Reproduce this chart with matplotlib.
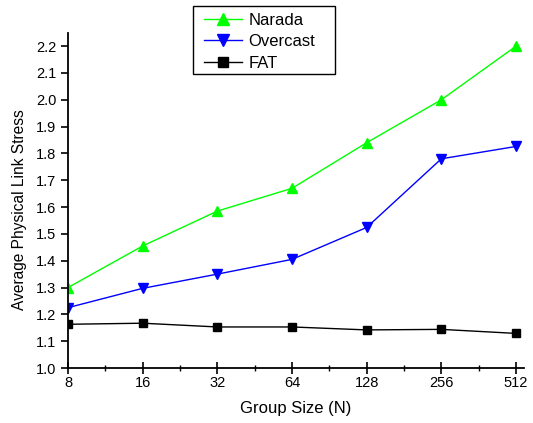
import matplotlib
matplotlib.use('Agg')
import matplotlib.pyplot as plt
from matplotlib.patches import Rectangle
import numpy as np

plt.rcParams['font.family'] = ['Liberation Sans', 'DejaVu Sans']

group_sizes = [8, 16, 32, 64, 128, 256, 512]
narada = [1.30, 1.455, 1.585, 1.67, 1.84, 2.00, 2.20]
overcast = [1.225, 1.297, 1.35, 1.405, 1.524, 1.78, 1.826]
fat = [1.163, 1.167, 1.153, 1.153, 1.142, 1.144, 1.129]
yticks = [1.0, 1.1, 1.2, 1.3, 1.4, 1.5, 1.6, 1.7, 1.8, 1.9, 2.0, 2.1, 2.2]

W, H = 533, 423
fig = plt.figure(figsize=(W / 100, H / 100), dpi=100)
ax = fig.add_axes([68 / W, 1 - 368 / H, (524 - 68) / W, (368 - 33) / H])

xs = np.log2(group_sizes)
ax.plot(xs, narada, color='#00ff00', lw=1, marker='^', ms=7, label='Narada')
ax.plot(xs, overcast, color='#0000ff', lw=1, marker='v', ms=7, label='Overcast')
ax.plot(xs, fat, color='#000000', lw=1, marker='s', ms=5.5, label='FAT')

ax.set_xlim(3, 9.107)
ax.set_ylim(1.0, 2.249)
ax.set_xticks(xs)
ax.set_xticklabels([str(g) for g in group_sizes])
ax.set_xticks(xs[:-1] + 0.5, minor=True)
ax.set_yticks(yticks)
ax.set_yticklabels([f'{v:.1f}' for v in yticks])

for s in ['top', 'right']:
    ax.spines[s].set_visible(False)
ax.spines['left'].set_linewidth(1.3)
ax.spines['bottom'].set_linewidth(1.3)

ax.tick_params(axis='x', which='major', direction='inout', length=8, width=1.2, labelsize=10.5, pad=2)
ax.tick_params(axis='x', which='minor', direction='inout', length=5, width=1.0)
ax.tick_params(axis='y', which='major', direction='out', length=5, width=1.2, labelsize=10.5)

ax.set_xlabel('Group Size (N)', fontsize=12, labelpad=8)
ax.set_ylabel('Average Physical Link Stress', fontsize=11.2)
ax.yaxis.set_label_coords(-0.09, 0.472)

# legend frame drawn separately so the padding matches the original box
fig.patches.append(Rectangle((193 / W, 1 - 74 / H), 142 / W, 68 / H,
                             transform=fig.transFigure, fill=False,
                             edgecolor='black', lw=1.0))
leg = ax.legend(loc='upper left', bbox_to_anchor=(204 / W, 1 - 13 / H),
                bbox_transform=fig.transFigure, fontsize=12, frameon=False,
                handlelength=2.3, borderpad=0.0, labelspacing=0.38,
                handletextpad=0.35, borderaxespad=0, markerscale=1.2)

fig.savefig('out.png', dpi=100)
